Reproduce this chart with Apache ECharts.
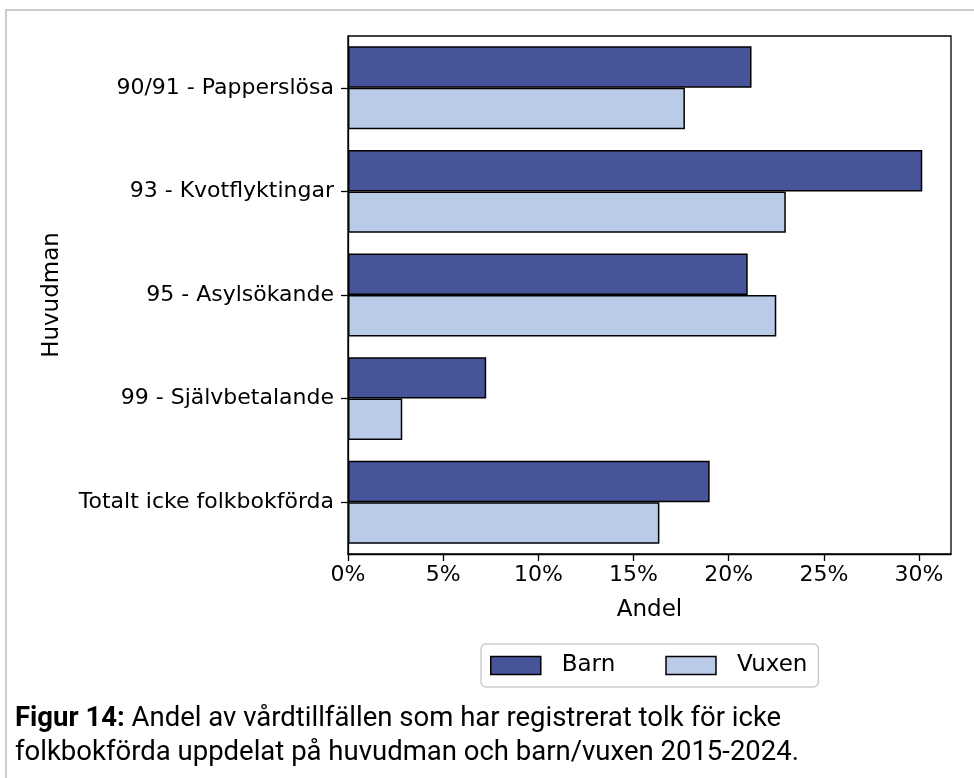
<!DOCTYPE html>
<html><head><meta charset="utf-8">
<script src="https://cdn.jsdelivr.net/npm/echarts@6/dist/echarts.min.js"></script>
<style>html,body{margin:0;padding:0;background:#fff}#c{width:974px;height:778px}</style>
</head><body><div id="c"></div>
<script>
const categories = ['90/91 - Papperslösa', '93 - Kvotflyktingar', '95 - Asylsökande', '99 - Självbetalande', 'Totalt icke folkbokförda'];
const barn = [21.2, 30.17, 21.0, 7.26, 19.0];
const vuxen = [17.7, 23.0, 22.5, 2.85, 16.36];
const xTicks = [0, 5, 10, 15, 20, 25, 30];
const xMax = 31.68;

const FONT = 'DejaVu Sans';
const CAP_FONT = '"Liberation Sans Narrow", "Roboto", sans-serif';
const chart = echarts.init(document.getElementById('c'), null, {renderer: 'canvas'});
const barStyle = (color) => ({color: color, borderColor: '#000', borderWidth: 1.5});
chart.setOption({
  animation: false,
  backgroundColor: '#fff',
  grid: {left: 348, right: 23, top: 36, bottom: 224, show: true, borderColor: '#000', borderWidth: 1.3, backgroundColor: 'transparent'},
  xAxis: {
    type: 'value', min: 0, max: xMax, interval: 5,
    name: 'Andel', nameLocation: 'middle', nameGap: 45,
    nameTextStyle: {fontFamily: FONT, fontSize: 23, color: '#000'},
    axisLine: {show: true, lineStyle: {color: '#000', width: 1.3}},
    axisTick: {show: true, length: 7, lineStyle: {color: '#000', width: 1.3}, customValues: xTicks},
    axisLabel: {fontFamily: FONT, fontSize: 22, color: '#000', margin: 10, customValues: xTicks, formatter: v => v + '%'},
    splitLine: {show: false}
  },
  yAxis: {
    type: 'category', data: categories, inverse: true,
    name: 'Huvudman', nameLocation: 'middle', nameGap: 284, nameRotate: 90,
    nameTextStyle: {fontFamily: FONT, fontSize: 23, color: '#000'},
    axisLine: {show: true, lineStyle: {color: '#000', width: 1.3}},
    axisTick: {show: true, alignWithLabel: true, length: 7, lineStyle: {color: '#000', width: 1.3}},
    axisLabel: {fontFamily: FONT, fontSize: 22, color: '#000', margin: 14}
  },
  legend: {
    data: ['Barn', 'Vuxen'], left: 481, top: 644, orient: 'horizontal',
    icon: 'rect', itemWidth: 50, itemHeight: 18, itemGap: 50,
    padding: [10, 11, 10, 9],
    borderColor: '#cccccc', borderWidth: 1.5, borderRadius: 5,
    textStyle: {fontFamily: FONT, fontSize: 23, color: '#000', padding: [0, 0, 0, 16]},
    itemStyle: {borderColor: '#000', borderWidth: 1.5}
  },
  series: [
    {name: 'Barn', type: 'bar', data: barn, barCategoryGap: '20%', barGap: '0%', itemStyle: barStyle('#47549a')},
    {name: 'Vuxen', type: 'bar', data: vuxen, barCategoryGap: '20%', barGap: '0%', itemStyle: barStyle('#b9cbe8')}
  ],
  graphic: [
    {type: 'rect', shape: {x: 6, y: 10, width: 1200, height: 1200}, style: {fill: 'none', stroke: '#cccccc', lineWidth: 2}, silent: true},
    {type: 'text', left: 15, top: 702, style: {
      text: '{b|Figur 14:} Andel av vårdtillfällen som har registrerat tolk för icke\nfolkbokförda uppdelat på huvudman och barn/vuxen 2015-2024.',
      fontFamily: CAP_FONT, fontSize: 27.5, fill: '#000', lineHeight: 34,
      rich: {b: {fontWeight: 'bold', fontFamily: CAP_FONT, fontSize: 27.5, fill: '#000', lineHeight: 34}}
    }}
  ]
});
</script></body></html>
